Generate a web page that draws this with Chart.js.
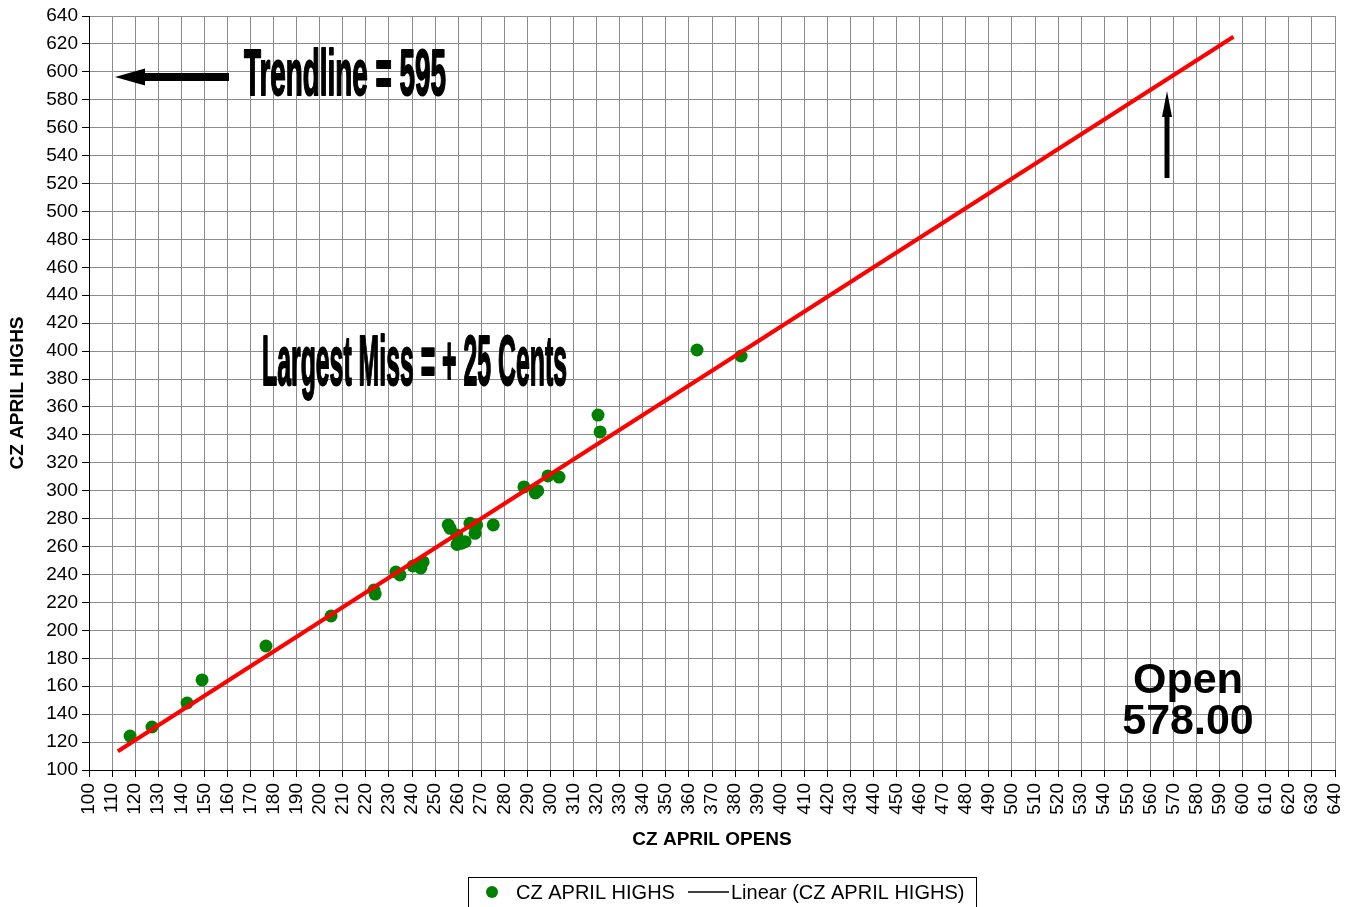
<!DOCTYPE html>
<html>
<head>
<meta charset="utf-8">
<title>CZ April Opens vs Highs</title>
<script src="https://cdn.jsdelivr.net/npm/chart.js@4.4.1/dist/chart.umd.min.js"></script>
<style>
    body { margin: 0; background: #fff; }
    #wrap { width: 1351px; height: 907px; position: relative; }
</style>
</head>
<body>
<div id="wrap"><canvas id="czChart"></canvas></div>
<script>
// Data
const opens = [117.8, 127.3, 142.5, 149.0, 176.7, 204.9, 223.5, 224.0, 233.0, 234.8,
    240.4, 243.8, 244.8, 255.7, 256.5, 259.4, 259.5, 260.8, 261.5, 263.0,
    265.1, 267.3, 268.0, 275.2, 288.5, 293.4, 294.5, 298.9, 303.7, 320.6,
    321.5, 363.5, 382.6];
const highs = [124.3, 130.8, 148.0, 164.5, 188.8, 210.3, 228.9, 226.0, 241.8, 239.7,
    246.1, 244.7, 249.0, 275.5, 273.1, 268.3, 261.5, 262.4, 262.5, 263.5,
    276.7, 269.5, 275.5, 275.5, 302.7, 298.4, 300.0, 310.6, 309.8, 354.2,
    342.1, 400.8, 396.5];

// Axis ranges
const axisMin = 100;
const axisMax = 640;
const xStep = 10;
const yStep = 20;

// Trendline forecast range (Excel extends the fit both ways)
const trendFrom = 112.5;
const trendTo = 596;

const font = "'Liberation Sans', Arial, sans-serif";

// Least squares fit
function linearFit(xs, ys) {
    const n = xs.length;
    let sx = 0, sy = 0, sxx = 0, sxy = 0;
    for (let i = 0; i < n; i++) {
        sx += xs[i]; sy += ys[i];
        sxx += xs[i] * xs[i]; sxy += xs[i] * ys[i];
    }
    const slope = (n * sxy - sx * sy) / (n * sxx - sx * sx);
    const intercept = (sy - slope * sx) / n;
    return { slope, intercept };
}

const fit = linearFit(opens, highs);
const trendPoints = [trendFrom, trendTo].map(x => ({ x: x, y: fit.slope * x + fit.intercept }));
const scatterPoints = opens.map((x, i) => ({ x: x, y: highs[i] }));

// Condensed bold text, squeezed to a target width
function narrowText(ctx, text, x, y, size, width) {
    ctx.save();
    ctx.font = 'bold ' + size + 'px ' + font;
    const w = ctx.measureText(text).width;
    ctx.translate(x, y);
    ctx.scale(width / w, 1);
    ctx.textAlign = 'left';
    ctx.textBaseline = 'alphabetic';
    ctx.fillStyle = '#000';
    ctx.strokeStyle = '#000';
    ctx.lineWidth = 2;
    ctx.lineJoin = 'round';
    ctx.fillText(text, 0, 0);
    ctx.strokeText(text, 0, 0);
    ctx.restore();
}

function arrow(ctx, x1, y1, x2, y2, shaft, headW, headL) {
    const ang = Math.atan2(y2 - y1, x2 - x1);
    const len = Math.hypot(x2 - x1, y2 - y1);
    ctx.save();
    ctx.translate(x1, y1);
    ctx.rotate(ang);
    ctx.fillStyle = '#000';
    ctx.fillRect(0, -shaft / 2, len - headL, shaft);
    ctx.beginPath();
    ctx.moveTo(len, 0);
    ctx.lineTo(len - headL, -headW / 2);
    ctx.lineTo(len - headL, headW / 2);
    ctx.closePath();
    ctx.fill();
    ctx.restore();
}

// Titles, notes, arrows and the boxed legend
const extras = {
    id: 'extras',
    afterDraw(chart) {
        const ctx = chart.ctx;
        const area = chart.chartArea;

        ctx.save();
        ctx.fillStyle = '#000';
        ctx.font = 'bold 19px ' + font;
        ctx.textAlign = 'center';
        ctx.textBaseline = 'middle';
        ctx.fillText('CZ APRIL OPENS', 712, 840);
        ctx.save();
        ctx.translate(18, (area.top + area.bottom) / 2);
        ctx.rotate(-Math.PI / 2);
        ctx.fillText('CZ APRIL HIGHS', 0, 0);
        ctx.restore();

        // Notes
        narrowText(ctx, 'Trendline = 595', 244, 95, 64, 202);
        narrowText(ctx, 'Largest Miss = + 25 Cents', 262, 385, 70, 305);

        ctx.font = 'bold 43px ' + font;
        ctx.textAlign = 'center';
        ctx.textBaseline = 'alphabetic';
        ctx.fillText('Open', 1188, 693);
        ctx.fillText('578.00', 1188, 734);

        arrow(ctx, 229, 77, 115, 77, 8, 17, 30);
        arrow(ctx, 1167, 178, 1167, 91, 5, 10, 26);

        // Legend
        ctx.strokeStyle = '#000';
        ctx.lineWidth = 1;
        ctx.strokeRect(468.5, 877.5, 508, 40);
        ctx.fillStyle = '#008000';
        ctx.beginPath();
        ctx.arc(492, 892, 6, 0, Math.PI * 2);
        ctx.fill();
        ctx.fillStyle = '#000';
        ctx.font = '20px ' + font;
        ctx.textAlign = 'left';
        ctx.textBaseline = 'middle';
        ctx.fillText('CZ APRIL HIGHS', 516, 893);
        ctx.lineWidth = 1.5;
        ctx.beginPath();
        ctx.moveTo(688, 892);
        ctx.lineTo(729, 892);
        ctx.stroke();
        ctx.fillText('Linear (CZ APRIL HIGHS)', 731, 893);
        ctx.restore();
    }
};

function initializeChart() {
    const ctx = document.getElementById('czChart');
    new Chart(ctx, {
        type: 'scatter',
        data: {
            datasets: [{
                label: 'Linear (CZ APRIL HIGHS)',
                type: 'line',
                data: trendPoints,
                borderColor: '#ff0000',
                borderWidth: 4,
                pointRadius: 0,
                fill: false
            }, {
                label: 'CZ APRIL HIGHS',
                data: scatterPoints,
                backgroundColor: '#008000',
                borderWidth: 0,
                pointRadius: 6.5,
                pointHoverRadius: 6.5
            }]
        },
        options: {
            responsive: true,
            maintainAspectRatio: false,
            animation: false,
            layout: { padding: { top: 16, right: 16, left: 0, bottom: 0 } },
            plugins: {
                legend: { display: false },
                tooltip: { enabled: false }
            },
            scales: {
                x: {
                    type: 'linear',
                    min: axisMin,
                    max: axisMax,
                    afterFit: scale => {
                        scale.height = 137;
                        scale.paddingLeft = 0;
                        scale.paddingRight = 0;
                    },
                    ticks: {
                        stepSize: xStep,
                        autoSkip: false,
                        minRotation: 90,
                        maxRotation: 90,
                        padding: 6,
                        color: '#000',
                        font: { family: font, size: 19 }
                    },
                    grid: { color: '#8c8c8c', tickColor: '#000', tickLength: 7 },
                    border: { color: '#000', width: 1 }
                },
                y: {
                    min: axisMin,
                    max: axisMax,
                    afterFit: scale => {
                        scale.width = 89;
                        scale.paddingTop = 0;
                        scale.paddingBottom = 0;
                    },
                    ticks: {
                        stepSize: yStep,
                        padding: 4,
                        color: '#000',
                        font: { family: font, size: 19 }
                    },
                    grid: { color: '#8c8c8c', tickColor: '#000', tickLength: 7 },
                    border: { color: '#000', width: 1 }
                }
            }
        },
        plugins: [extras]
    });
}

window.addEventListener('DOMContentLoaded', initializeChart);
</script>
</body>
</html>
